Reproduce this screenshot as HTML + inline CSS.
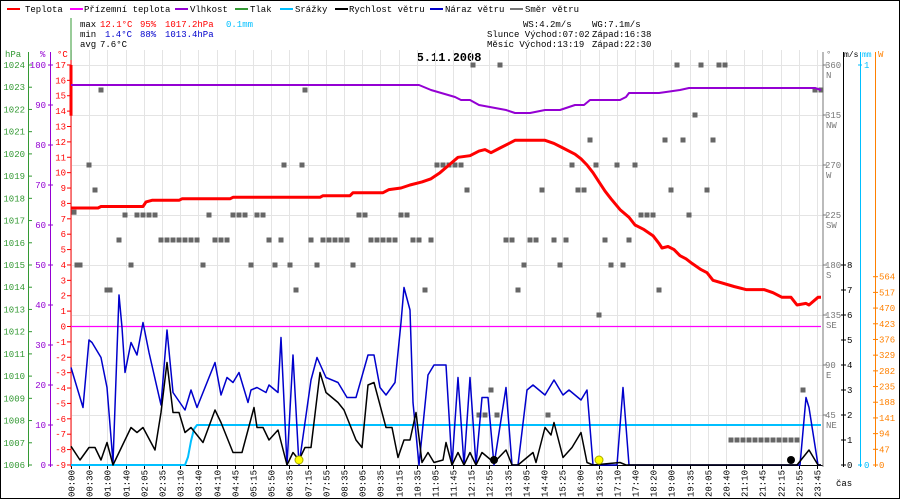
<!DOCTYPE html>
<html><head><meta charset="utf-8"><style>
html,body{margin:0;padding:0;background:#fff}
svg{display:block;font-family:"Liberation Mono",monospace}
text{font-size:9px}
</style></head><body>
<svg id="chart" width="900" height="500" viewBox="0 0 900 500" xmlns="http://www.w3.org/2000/svg">
<rect x="0.5" y="0.5" width="899" height="498" fill="#fff" stroke="#000"/>
<g id="legend">
 <g><rect x="7" y="8" width="13" height="2" fill="#f00"/><text x="25" y="12">Teplota</text></g>
 <g><rect x="70" y="8" width="13" height="2" fill="#f0f"/><text x="84" y="12">Přízemní teplota</text></g>
 <g><rect x="175" y="8" width="13" height="2" fill="#9400d3"/><text x="190" y="12">Vlhkost</text></g>
 <g><rect x="235" y="8" width="13" height="2" fill="#339933"/><text x="250" y="12">Tlak</text></g>
 <g><rect x="280" y="8" width="13" height="2" fill="#00bfff"/><text x="295" y="12">Srážky</text></g>
 <g><rect x="335" y="8" width="13" height="2" fill="#000"/><text x="349" y="12">Rychlost větru</text></g>
 <g><rect x="430" y="8" width="13" height="2" fill="#0000cc"/><text x="445" y="12">Náraz větru</text></g>
 <g><rect x="510" y="8" width="13" height="2" fill="#777"/><text x="525" y="12">Směr větru</text></g>
</g>
<g>
 <text x="80" y="27">max</text><text x="100" y="27" fill="#f00">12.1°C</text><text x="140" y="27" fill="#f00">95%</text><text x="165" y="27" fill="#f00">1017.2hPa</text><text x="226" y="27" fill="#00bfff">0.1mm</text>
 <text x="80" y="37">min</text><text x="105" y="37" fill="#0000cc">1.4°C</text><text x="140" y="37" fill="#0000cc">88%</text><text x="165" y="37" fill="#0000cc">1013.4hPa</text>
 <text x="80" y="47">avg</text><text x="100" y="47">7.6°C</text>
 <text x="523" y="27">WS:4.2m/s</text><text x="592" y="27">WG:7.1m/s</text>
 <text x="487" y="37">Slunce Východ:07:02</text><text x="592" y="37">Západ:16:38</text>
 <text x="487" y="47">Měsíc  Východ:13:19</text><text x="592" y="47">Západ:22:30</text>
</g>
<text x="449" y="61" text-anchor="middle" style="font-size:12px;font-weight:bold">5.11.2008</text>
<g id="grid"></g>
<g id="axes"></g>
<g id="series"></g>
<text x="836" y="486">čas</text>
</svg>
<script>
const timeLabels=["00:00","00:30","01:00","01:40","02:05","02:35","03:10","03:40","04:10","04:45","05:15","05:50","06:35","07:15","07:55","08:35","09:05","09:35","10:15","10:35","11:05","11:45","12:15","12:55","13:35","14:05","14:40","15:25","16:00","16:35","17:10","17:40","18:20","19:00","19:35","20:05","20:40","21:10","21:45","22:15","22:55","23:45"];
const hpaTicks=[1024,1023,1022,1021,1020,1019,1018,1017,1016,1015,1014,1013,1012,1011,1010,1009,1008,1007,1006];
const pctTicks=[100,90,80,70,60,50,40,30,20,10,0];
const tempTicks=[17,16,15,14,13,12,11,10,9,8,7,6,5,4,3,2,1,0,-1,-2,-3,-4,-5,-6,-7,-8,-9];
const dirTicks=[360,315,270,225,180,135,90,45];
const dirNames=["N","NW","W","SW","S","SE","E","NE"];
const msTicks=[8,7,6,5,4,3,2,1,0];
const wTicks=[564,517,470,423,376,329,282,235,188,141,94,47,0];
const tempIdx=[0,9,10,24,25,27,36,37,53,54,83,84,93,94,104,106,110,113,117,120,123,126,129,133,136,138,140,143,146,148,158,161,164,168,170,172,174,176,178,180,183,186,188,191,194,196,197,199,201,203,205,207,210,212,214,221,225,231,234,237,240,242,245,246,249,250];
const tempVal=[7.7,7.7,7.8,7.8,8.1,8.2,8.2,8.3,8.3,8.4,8.4,8.5,8.5,8.7,8.7,8.9,9.0,9.2,9.4,9.6,10.0,10.5,11.0,11.1,11.4,11.5,11.3,11.6,11.9,12.1,12.1,11.9,11.6,11.2,10.9,10.5,10.0,9.4,8.8,8.3,7.6,7.1,6.6,6.3,5.9,5.4,5.1,5.2,5.0,4.6,4.4,4.1,3.7,3.5,3.0,2.6,2.4,2.4,2.2,1.9,1.9,1.4,1.5,1.4,1.9,1.9];
const humIdx=[0,116,120,128,130,133,136,145,148,153,158,163,168,171,173,183,185,186,196,203,206,248,250];
const humVal=[95,95,93.75,92,91.25,91.25,90,88.75,88,88,88.75,88.75,90,90,91.25,91.25,92,93,93,93.75,94.25,94.25,93.75];
const appIdx=[0,250];
const appVal=[0,0];
const rainIdx=[0,38,39,40,41,42,250];
const rainVal=[0,0,0.02,0.06,0.09,0.1,0.1];
const gustIdx=[0,4,6,7,10,12,14,16,17,18,20,22,24,26,30,32,34,38,40,42,48,50,52,54,56,59,60,62,65,66,69,70,72,74,76,80,82,85,89,92,95,99,101,103,105,108,110,111,113,114,116,119,121,125,127,129,131,133,135,137,139,141,145,147,149,152,154,158,161,164,166,170,172,174,182,184,186,243,245,246,249,250];
const gustVal=[3.9,2.3,5.0,4.9,4.3,3.1,0.1,6.8,5.5,3.7,4.9,4.4,5.7,4.5,2.4,5.4,2.9,2.2,3.0,2.3,4.1,2.8,3.5,3.3,3.7,2.5,3.0,3.1,2.9,3.2,2.9,5.1,0,4.4,0,3.4,4.3,3.5,3.3,2.7,2.7,4.4,4.4,3.1,2.8,3.3,5.7,7.1,6.2,2.5,0,3.6,4.0,4.0,0,3.5,0,3.5,0,2.7,2.7,0,3.1,0,0,3.0,3.2,2.8,3.4,2.8,3.0,2.6,3.0,0,0,3.1,0,0,2.7,2.3,0,0];
const speedIdx=[0,3,6,8,10,12,14,16,20,22,24,28,30,32,34,36,38,40,44,48,50,54,57,61,62,64,66,69,72,74,76,78,80,83,85,89,91,95,97,99,101,105,107,109,111,113,115,117,119,121,124,125,127,129,131,133,135,137,141,145,147,149,154,155,158,160,161,164,167,170,172,174,183,185,242,246,249,250];
const speedVal=[0.75,0.2,0.7,0.7,0.2,0.9,0,0.5,1.5,1.3,1.5,0.6,2.1,4.1,2.1,2.1,1.3,1.5,0.9,2.2,1.7,0.5,0.5,2.3,1.5,1.5,1.0,1.4,0,0.5,0.2,0.7,0.7,3.7,2.9,2.5,2.2,1.0,0.7,3.2,3.3,1.5,1.5,0.3,1.0,1.0,2.1,0.1,0.5,0.1,0.2,0.9,0,0.5,0,0.5,0,0.5,0.1,0.6,0,0,0.5,0.1,1.5,1.2,1.7,0.3,0.7,1.3,0.1,0,0.1,0,0,0.6,0,0];
const dirIdx=[1,2,3,6,8,10,12,13,16,18,20,22,24,26,28,30,32,34,36,38,40,42,44,46,48,50,52,54,56,58,60,62,64,66,68,70,71,73,75,77,78,80,82,84,86,88,90,92,94,96,98,100,102,104,106,108,110,112,114,116,118,120,122,124,126,128,130,132,134,136,138,140,142,143,145,147,149,151,153,155,157,159,161,163,165,167,169,171,173,175,176,178,180,182,184,186,188,190,192,194,196,198,200,202,204,206,208,210,212,214,216,218,220,222,224,226,228,230,232,234,236,238,240,242,244,248,250];
const dirVal=[227.5,180,180,270,247.5,337.5,157.5,157.5,202.5,225,180,225,225,225,225,202.5,202.5,202.5,202.5,202.5,202.5,202.5,180,225,202.5,202.5,202.5,225,225,225,180,225,225,202.5,180,202.5,270,180,157.5,270,337.5,202.5,180,202.5,202.5,202.5,202.5,202.5,180,225,225,202.5,202.5,202.5,202.5,202.5,225,225,202.5,202.5,157.5,202.5,270,270,270,270,270,247.5,360,45,45,67.5,45,360,202.5,202.5,157.5,180,202.5,202.5,247.5,45,202.5,180,202.5,270,247.5,247.5,292.5,270,135,202.5,180,270,180,202.5,270,225,225,225,157.5,292.5,247.5,360,292.5,225,315,360,247.5,292.5,360,360,22.5,22.5,22.5,22.5,22.5,22.5,22.5,22.5,22.5,22.5,22.5,22.5,67.5,337.5,337.5];
const sunIdx=[76,176];
const moonIdx=[141,240];

const NS='http://www.w3.org/2000/svg';
const X=i=>71+i*3;
const XL=k=>71+k*746/41;
const yT=t=>326.5-t*400/26;
const yH=h=>465-4*h;
const yP=p=>65+(1024-p)*400/18;
const yV=v=>465-25*v;
const yD=d=>465-d*400/360;
const yMM=m=>465-400*m;
const yW=w=>465-w*(188.3/564);
function mk(tag,attrs,parent){const e=document.createElementNS(NS,tag);for(const k in attrs)e.setAttribute(k,attrs[k]);parent.appendChild(e);return e;}
const grid=document.getElementById('grid'),axes=document.getElementById('axes'),ser=document.getElementById('series');

timeLabels.forEach((lab,k)=>{
 const x=Math.round(XL(k))+0.5;
 const g=mk('line',{x1:x,x2:x,y1:50,y2:465,stroke:'#e4e4e4'},grid);
 
 
 const tk=mk('line',{x1:x,x2:x,y1:465,y2:469,stroke:'#000'},axes);
 
 
 const t=mk('text',{x:0,y:0,'text-anchor':'end',transform:`translate(${x+3},470) rotate(-90)`},axes);
 t.textContent=lab;
 
 
});
dirTicks.forEach(d=>{const y=Math.round(yD(d))+0.5;
 const g=mk('line',{x1:71,x2:823,y1:y,y2:y,stroke:'#e4e4e4'},grid);
 
 
});
const bl=mk('line',{x1:71,x2:823,y1:465.5,y2:465.5,stroke:'#000'},axes);



function vaxis(x,color,y1,y2,name){const l=mk('line',{x1:x,x2:x,y1:y1,y2:y2,stroke:color},axes);}
vaxis(28.5,'#339933',52,467,'hpa-axis');
vaxis(50.5,'#9400d3',52,467,'percent-axis');
vaxis(71,'#f00',52,467,'temp-axis');
const ga=mk('line',{x1:71,x2:71,y1:18,y2:60,stroke:'#339933'},axes);
vaxis(823,'#777',52,467,'direction-axis');
vaxis(843.5,'#000',52,467,'wind-speed-axis');
vaxis(860.5,'#00bfff',52,467,'rain-axis');
vaxis(875.5,'#ff8000',52,467,'radiation-axis');

function label(x,y,txt,color,anchor,name){const t=mk('text',{x:x,y:y,fill:color,'text-anchor':anchor},axes);t.textContent=txt;return t;}
label(5,57,'hPa','#339933','start','hpa-axis-title');
label(40,57,'%','#9400d3','start','percent-axis-title');
label(57,57,'°C','#f00','start','temp-axis-title');
label(826,57,'°','#777','start','direction-axis-title');
label(844,57,'m/s','#000','start','wind-axis-title').style.fontSize='8px';
label(862,57,'mm','#00bfff','start','rain-axis-title').style.fontSize='8px';
label(878,57,'W','#ff8000','start','radiation-axis-title');

hpaTicks.forEach(p=>{const y=yP(p);mk('line',{x1:28,x2:32,y1:y,y2:y,stroke:'#339933'},axes);label(25,y+3,String(p),'#339933','end','hpa-tick-label');});
pctTicks.forEach(p=>{const y=yH(p);mk('line',{x1:48,x2:53,y1:y,y2:y,stroke:'#9400d3'},axes);label(46,y+3,String(p),'#9400d3','end','percent-tick-label');});
tempTicks.forEach(t=>{const y=yT(t);mk('line',{x1:67,x2:71,y1:y,y2:y,stroke:'#f00'},axes);label(66,y+3,String(t),'#f00','end','temp-tick-label');});
dirTicks.forEach((d,i)=>{const y=yD(d);mk('line',{x1:823,x2:827,y1:y,y2:y,stroke:'#777'},axes);label(825,y+3,String(d),'#777','start','direction-tick-label');label(826,y+13,dirNames[i],'#777','start','direction-compass-label');});
msTicks.forEach(v=>{const y=yV(v);mk('line',{x1:841,x2:846,y1:y,y2:y,stroke:'#000'},axes);label(847,y+3,String(v),'#000','start','wind-tick-label');});
[1,0].forEach(m=>{const y=yMM(m);mk('line',{x1:858,x2:862,y1:y,y2:y,stroke:'#00bfff'},axes);label(864,y+3,String(m),'#00bfff','start','rain-tick-label');});
wTicks.forEach(w=>{const y=yW(w);mk('line',{x1:873,x2:878,y1:y,y2:y,stroke:'#ff8000'},axes);label(879,y+3,String(w),'#ff8000','start','radiation-tick-label');});
const tb=mk('line',{x1:71,x2:71,y1:yT(17),y2:yT(13.7),stroke:'#f00','stroke-width':3},axes);

function poly(idx,val,yf,color,w,name){
 const pts=idx.map((i,k)=>X(i).toFixed(1)+','+yf(val[k]).toFixed(1)).join(' ');
 const p=mk('polyline',{points:pts,fill:'none',stroke:color,'stroke-width':w,'stroke-linejoin':'round'},ser);
 
 
}
dirIdx.forEach((i,k)=>{
 const r=mk('rect',{x:X(i)-2.5,y:yD(dirVal[k])-2.5,width:5,height:5,fill:'#666'},ser);
 
 
});
poly(appIdx,appVal,yT,'#f0f',1.2,'apparent-temperature-line');
poly(rainIdx,rainVal,yMM,'#00bfff',2,'precipitation-line');
poly(humIdx,humVal,yH,'#9400d3',2,'humidity-line');
poly(tempIdx,tempVal,yT,'#f00',3,'temperature-line');
poly(gustIdx,gustVal,yV,'#0000cc',1.5,'wind-gust-line');
poly(speedIdx,speedVal,yV,'#000',1.5,'wind-speed-line');
sunIdx.forEach(i=>{const c=mk('circle',{cx:X(i),cy:460,r:4,fill:'#ff0',stroke:'#aa0'},ser);});
moonIdx.forEach(i=>{const c=mk('circle',{cx:X(i),cy:460,r:4,fill:'#000'},ser);});
</script>
</body></html>
